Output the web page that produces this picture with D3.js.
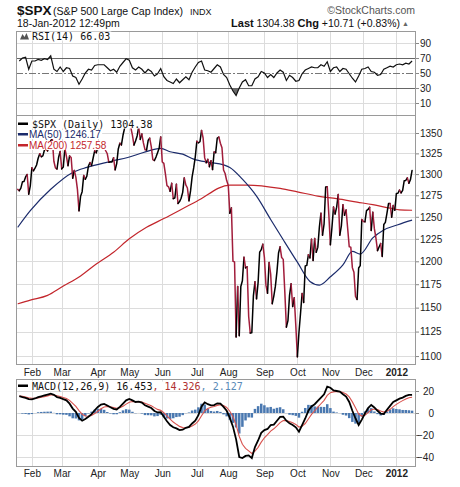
<!DOCTYPE html>
<html><head><meta charset="utf-8">
<script src="https://cdn.jsdelivr.net/npm/d3@7"></script>
<style>body{margin:0;background:#fff}svg{display:block}</style>
</head><body>
<svg id="c" width="460" height="487"></svg>
<script>
// ---- data (trading-day index 0 = 19-Jan-2011, 251 = 18-Jan-2012) ----
const closes = [
1281.9,1280.3,1283.4,1290.8,1291.2,1296.6,1299.5,1276.3,1286.1,
1307.6,1304.0,1307.1,1310.9,1319.1,1324.6,1320.9,1321.9,1329.1,1332.3,1328.0,1336.3,1340.4,1343.0,1315.4,1307.4,1306.1,1319.9,1327.2,
1306.3,1308.4,1331.0,1321.2,1310.1,1321.8,1320.0,1295.1,1304.3,1296.4,1281.9,1256.9,1273.7,1279.2,1298.4,1293.8,1297.5,1309.7,1313.8,1310.2,1319.4,1328.3,1325.8,
1332.4,1332.9,1332.6,1335.5,1333.5,1328.2,1324.5,1314.2,1314.4,1314.5,1319.7,1305.1,1312.6,1330.4,1337.4,1335.3,1347.2,1355.7,1360.5,1363.6,
1361.2,1356.6,1347.3,1335.1,1340.2,1346.3,1357.2,1342.1,1348.7,1337.8,1329.5,1329.0,1340.7,1343.6,1333.3,1317.4,1316.3,1320.5,1325.7,1331.1,1345.2,
1314.6,1312.9,1300.2,1286.2,1284.9,1279.6,1289.0,1271.0,1271.8,1287.9,1265.4,1267.6,1271.5,1278.4,1295.5,1287.1,1283.5,1268.5,1280.1,1296.7,1307.4,1320.6,
1339.7,1337.9,1339.2,1353.2,1343.8,1319.5,1313.6,1317.7,1308.9,1316.1,1305.4,1326.7,1325.8,1343.8,1345.0,1337.4,1331.9,1304.9,1300.7,1292.3,
1286.9,1254.1,1260.3,1200.1,1199.4,1119.5,1172.5,1120.8,1172.6,1178.8,1204.5,1192.8,1193.9,1140.7,1123.5,1123.8,1162.4,1177.6,1159.3,1176.8,1210.1,1212.9,1218.9,
1204.4,1174.0,1165.2,1198.6,1185.9,1154.2,1162.3,1172.9,1188.7,1209.1,1216.0,1204.1,1202.1,1166.8,1129.6,1136.4,1163.0,1175.4,1151.1,1160.4,1131.4,
1099.2,1124.0,1144.0,1165.0,1155.5,1194.9,1195.5,1207.3,1203.7,1224.6,1200.9,1225.4,1209.9,1215.4,1238.3,1254.2,1229.1,1242.0,1284.6,1285.1,1253.3,
1218.3,1237.9,1261.2,1253.2,1261.1,1275.9,1229.1,1239.7,1263.9,1251.8,1257.8,1236.9,1216.1,1215.7,1193.0,1188.0,1161.8,1158.7,1192.6,1195.2,1247.0,
1244.6,1244.3,1257.1,1258.5,1261.0,1234.4,1255.2,1236.5,1225.7,1211.8,1215.8,1219.7,1205.4,1241.3,1243.7,1254.0,1265.3,1265.4,1249.6,1263.0,1257.6,
1277.1,1277.3,1281.1,1277.8,1280.7,1292.1,1292.5,1295.5,1289.1,1293.7,1304.38];

const monthIdx = [9,28,51,71,92,114,134,157,178,199,220,241];
const monthLabels = ["Feb","Mar","Apr","May","Jun","Jul","Aug","Sep","Oct","Nov","Dec","2012"];
const priceTicks = [1100,1125,1150,1175,1200,1225,1250,1275,1300,1325,1350];
const rsiTicks = [10,30,50,70,90];
const macdTicks = [-40,-20,0,20];

const ma50Idx = [0,8,21,35,44,52,61,70,80,91,97,105,112,122,131,135,143,152,161,169,178,186,192,199,207,213,218,226,233,242,251];
const ma50 = [1238,1257,1282,1302,1308,1312,1316,1320,1326,1331,1327,1324,1318,1314,1311,1308,1294,1274,1247,1224,1199,1178,1174,1183,1196,1211,1208,1226,1235,1241,1246.17];
const ma200Idx = [0,8,19,28,40,50,61,71,82,93,114,135,146,167,178,191,203,216,226,237,243,251];
const ma200 = [1154,1158,1163,1172,1184,1197,1210,1225,1238,1248,1268,1287,1287,1283,1279,1274,1271,1267,1264,1260,1258,1257.58];

// indicator samples at odd trading-day indices 1,3,...,251
const rsi = [66,70,71,55,66,66,68,67,69,68,73,55,52,58,52,57,56,46,44,35,42,50,55,54,60,
61,61,61,57,53,55,51,59,64,69,67,57,54,58,55,50,55,52,46,49,56,45,40,38,36,42,37,41,45,41,
51,58,64,66,54,53,51,56,61,58,48,44,34,26,20,30,38,41,33,33,42,45,52,50,44,48,44,50,54,51,
40,47,44,39,40,49,54,56,58,57,57,61,59,65,52,57,58,52,56,55,49,43,38,46,55,56,58,52,51,47,
48,55,57,59,58,61,62,61,63,62,66.03];
const macd = [15.3,14.5,13.8,12.6,12.4,13.2,14.4,15.2,16.0,16.8,17.6,16.5,14.5,13.8,12.6,11.5,8.5,4.0,1.0,-4.5,
-7.0,-5.5,-3.4,-1.0,2.5,5.5,7.6,8.3,6.8,5.2,3.8,3.2,5.5,8.5,11.5,12.8,11.5,10.0,10.3,9.5,
7.0,5.8,4.5,1.8,0.5,0.8,-3.5,-7.5,-10.9,-13.0,-14.0,-15.5,-15.2,-13.5,-12.6,-9.5,-7.0,-2.0,6.0,9.7,
8.0,7.0,7.2,8.8,8.5,5.5,2.0,-4.5,-12.4,-24,-40,-41,-39,-38.5,-41,-31,-25,-18,-15.5,-14.5,
-11,-10.5,-7,-3.5,-3.4,-7,-9.4,-10.9,-13,-17,-11,-5,2,6,8,11,14,17,24,23,
20.5,20,19.4,17,15,10,2,-5,-10.9,-6,-0.5,4.5,7.3,5,2,-0.5,-0.9,3,6.5,10,
11.5,13,14,15.5,16.4,16.453];
const signal = [15.4,15.08,14.62,13.89,13.35,13.30,13.70,14.24,14.87,15.57,16.30,16.37,15.70,15.02,14.15,13.20,11.51,8.81,6.00,2.22,
-1.10,-2.68,-2.94,-2.24,-0.53,1.64,3.79,5.41,5.91,5.66,4.99,4.35,4.76,6.11,8.05,9.76,10.39,10.25,10.27,9.99,
8.91,7.79,6.61,4.88,3.30,2.40,0.28,-2.52,-5.54,-8.22,-10.30,-12.17,-13.26,-13.35,-13.08,-11.79,-10.07,-7.17,-2.43,1.94,
4.12,5.16,5.89,6.94,7.50,6.78,5.06,1.62,-3.43,-10.84,-21.34,-28.42,-32.23,-34.49,-36.83,-34.73,-31.23,-26.47,-22.52,-19.63,
-16.52,-14.35,-11.71,-8.75,-6.83,-6.89,-7.79,-8.91,-10.38,-12.76,-12.13,-9.56,-5.40,-1.30,2.05,5.27,8.41,11.50,16.00,18.52,
19.23,19.51,19.47,18.58,17.29,14.67,10.11,4.67,-0.93,-2.76,-1.95,0.37,2.87,3.64,3.05,1.77,0.81,1.60,3.36,5.75,
7.82,9.68,11.24,12.77,13.9,14.326];

// ---- layout ----
const svg = d3.select("#c");
const L = 16, R = 416;
const P = {rsi:{t:31,b:115}, main:{t:115,b:364}, macd:{t:379,b:466}};
const FONT = "'Liberation Sans', Arial, sans-serif";
const MONO = "'DejaVu Sans Mono', monospace";

const x = d3.scaleLinear().domain([-1.1, 253.5]).range([L, R]);
const yP = d3.scaleLog().domain([1092, 1372.5]).range([P.main.b, P.main.t]);
const yR = d3.scaleLinear().domain([0, 100]).range([110.5, 35.5]);
const yM = d3.scaleLinear().domain([-40, 20]).range([457, 391]);
const oddIdx = i => 1 + 2 * i;

const defs = svg.append("defs");
function clip(id, t, b) {
  defs.append("clipPath").attr("id", id).append("rect")
    .attr("x", L).attr("y", t).attr("width", R - L).attr("height", b - t);
  return "url(#" + id + ")";
}
const cpR = clip("cpR", P.rsi.t, P.rsi.b), cpP = clip("cpP", P.main.t, P.main.b), cpM = clip("cpM", P.macd.t, P.macd.b);

function grid(p, ys) {
  const g = svg.append("g");
  g.selectAll("line.v").data(monthIdx).join("line")
    .attr("x1", d => Math.round(x(d)) + 0.5).attr("x2", d => Math.round(x(d)) + 0.5)
    .attr("y1", p.t).attr("y2", p.b).attr("stroke", "#dcdcdc");
  g.selectAll("line.h").data(ys).join("line")
    .attr("x1", L).attr("x2", R)
    .attr("y1", d => Math.round(d) + 0.5).attr("y2", d => Math.round(d) + 0.5).attr("stroke", "#dcdcdc");
}
grid(P.rsi, [yR(10), yR(90)]);
grid(P.main, priceTicks.map(yP));
grid(P.macd, macdTicks.map(yM));

// ---- RSI panel ----
const gR = svg.append("g").attr("clip-path", cpR);
const rsiPts = rsi.map((v, i) => [oddIdx(i), v]);
defs.append("clipPath").attr("id", "below30").append("rect").attr("x", L).attr("width", R - L).attr("y", yR(30)).attr("height", 100);
defs.append("clipPath").attr("id", "above70").append("rect").attr("x", L).attr("width", R - L).attr("y", 0).attr("height", yR(70));
gR.append("path").datum(rsiPts).attr("clip-path", "url(#below30)")
  .attr("d", d3.area().x(d => x(d[0])).y0(yR(30)).y1(d => yR(d[1]))).attr("fill", "#6a6a6a");
gR.append("path").datum(rsiPts).attr("clip-path", "url(#above70)")
  .attr("d", d3.area().x(d => x(d[0])).y0(yR(70)).y1(d => yR(d[1]))).attr("fill", "#6a6a6a");
[30, 70].forEach(v => gR.append("line").attr("x1", L).attr("x2", R)
  .attr("y1", Math.round(yR(v)) + 0.5).attr("y2", Math.round(yR(v)) + 0.5).attr("stroke", "#666"));
gR.append("line").attr("x1", L).attr("x2", R).attr("y1", Math.round(yR(50)) + 0.5).attr("y2", Math.round(yR(50)) + 0.5)
  .attr("stroke", "#777").attr("stroke-dasharray", "7,2,2,2");
gR.append("path").datum(rsiPts).attr("fill", "none").attr("stroke", "#111").attr("stroke-width", 1.2)
  .attr("d", d3.line().x(d => x(d[0])).y(d => yR(d[1])));

// ---- main price panel ----
const gP = svg.append("g").attr("clip-path", cpP);
const lineMA = (idx, vals) => d3.line().curve(d3.curveMonotoneX).x(d => x(d[0])).y(d => yP(d[1]))(idx.map((k, i) => [k, vals[i]]));
gP.append("path").attr("d", lineMA(ma200Idx, ma200)).attr("fill", "none").attr("stroke", "#c3262c").attr("stroke-width", 1.2);
gP.append("path").attr("d", lineMA(ma50Idx, ma50)).attr("fill", "none").attr("stroke", "#1b2b6b").attr("stroke-width", 1.2);
// price: segments coloured by up (black) / down (red) day
const runs = [];
for (let i = 1; i < closes.length; i++) {
  const up = closes[i] >= closes[i - 1];
  const last = runs[runs.length - 1];
  if (last && last.up === up) last.pts.push(i);
  else runs.push({up, pts: [i - 1, i]});
}
gP.selectAll("path.px").data(runs).join("path")
  .attr("d", r => d3.line().x(i => x(i)).y(i => yP(closes[i]))(r.pts))
  .attr("fill", "none").attr("stroke", r => r.up ? "#000" : "#a11d3b")
  .attr("stroke-width", 1.5).attr("stroke-linejoin", "round").attr("stroke-linecap", "round");

// ---- MACD panel ----
const gM = svg.append("g").attr("clip-path", cpM);
gM.selectAll("rect.h").data(macd.map((m, i) => [oddIdx(i), m - signal[i]])).join("rect")
  .attr("x", d => x(d[0]) - 1.25).attr("width", 2.5)
  .attr("y", d => yM(Math.max(0, d[1]))).attr("height", d => Math.abs(yM(d[1]) - yM(0)))
  .attr("fill", "#4a78b0");
gM.append("path").datum(signal.map((v, i) => [oddIdx(i), v])).attr("fill", "none").attr("stroke", "#d9534f").attr("stroke-width", 1.1)
  .attr("d", d3.line().x(d => x(d[0])).y(d => yM(d[1])));
gM.append("path").datum(macd.map((v, i) => [oddIdx(i), v])).attr("fill", "none").attr("stroke", "#000").attr("stroke-width", 1.8)
  .attr("d", d3.line().x(d => x(d[0])).y(d => yM(d[1])));

// ---- frames ----
[P.rsi, P.main, P.macd].forEach(p => svg.append("rect").attr("x", L + 0.5).attr("y", p.t + 0.5)
  .attr("width", R - L - 1).attr("height", p.b - p.t).attr("fill", "none").attr("stroke", "#9a9a9a"));

// ---- axes ----
function styleAxis(g) {
  g.select(".domain").remove();
  g.selectAll("text").attr("font-family", FONT).attr("font-size", 10).attr("fill", "#222");
  g.selectAll("line").attr("stroke", "#888");
}
svg.append("g").attr("transform", `translate(${R},0)`)
  .call(d3.axisRight(yP).tickValues(priceTicks).tickFormat(d3.format("d")).tickSize(3).tickPadding(1)).call(styleAxis);
svg.append("g").attr("transform", `translate(${R},0)`)
  .call(d3.axisRight(yR).tickValues(rsiTicks).tickSize(3).tickPadding(1)).call(styleAxis);
svg.append("g").attr("transform", `translate(${R},0)`)
  .call(d3.axisRight(yM).tickValues(macdTicks).tickSize(3).tickPadding(1)).call(styleAxis)
  .selectAll("text").attr("text-anchor", "end").attr("x", 18);
function xAxis(y, pad) {
  const g = svg.append("g").attr("transform", `translate(0,${y})`)
    .call(d3.axisBottom(x).tickValues(monthIdx).tickFormat((d, i) => monthLabels[i]).tickSize(0).tickPadding(pad)).call(styleAxis);
  g.selectAll("text").filter(d => d === 241).attr("font-weight", "bold");
}
xAxis(P.main.b, 5);
xAxis(P.macd.b, 4);

// ---- header ----
const hdr = svg.append("g").attr("font-family", FONT).attr("fill", "#111");
hdr.append("text").attr("x", 17).attr("y", 15).attr("font-size", 13.5).attr("font-weight", "bold").text("$SPX");
hdr.append("text").attr("x", 53).attr("y", 15).attr("font-size", 10.6).text("(S&P 500 Large Cap Index)");
hdr.append("text").attr("x", 190).attr("y", 15).attr("font-size", 9).text("INDX");
hdr.append("text").attr("x", 415).attr("y", 14).attr("text-anchor", "end").attr("font-size", 10.5).attr("fill", "#555").text("\u00A9StockCharts.com");
hdr.append("text").attr("x", 17).attr("y", 27).attr("font-size", 10.5).text("18-Jan-2012 12:49pm");
const last = hdr.append("text").attr("x", 400).attr("y", 27).attr("text-anchor", "end").attr("font-size", 10.5);
last.append("tspan").attr("font-weight", "bold").attr("font-size", 11).text("Last");
last.append("tspan").text(" 1304.38 ");
last.append("tspan").attr("font-weight", "bold").attr("font-size", 11).text("Chg");
last.append("tspan").text(" +10.71 (+0.83%)");
hdr.append("text").attr("x", 402).attr("y", 26).attr("font-size", 7).attr("fill", "#666").text("\u25B2");

// ---- legends ----
function legendRow(g, yBase, swatch, parts, tx, font, size) {
  const t = g.append("text").attr("x", tx).attr("y", yBase).attr("font-family", font).attr("font-size", size);
  parts.forEach(p => t.append("tspan").attr("fill", p[1]).text(p[0]));
  const bb = t.node().getBBox();
  g.insert("rect", "text").attr("x", bb.x - 1).attr("y", bb.y + 1).attr("width", bb.width + 2).attr("height", bb.height - 2).attr("fill", "#fff");
  if (swatch) g.append("rect").attr("x", 18).attr("y", yBase - 5).attr("width", 10).attr("height", 2.5).attr("fill", swatch);
}
const lg = svg.append("g");
legendRow(lg, 127.5, "#000", [["$SPX (Daily) 1304.38", "#111"]], 32, MONO, 10);
legendRow(lg, 138, "#1b2b6b", [["MA(50) 1246.17", "#1b2b6b"]], 29, FONT, 10);
legendRow(lg, 149, "#c3262c", [["MA(200) 1257.58", "#c3262c"]], 29, FONT, 10);
const lgR = svg.append("g");
legendRow(lgR, 39.5, null, [["RSI(14) 66.03", "#111"]], 32, MONO, 10);
lgR.append("path").attr("d", "M20,39.5 L22.5,34 L24.5,37 L26.5,33 L29,39.5 Z").attr("fill", "#555");
const lgM = svg.append("g");
legendRow(lgM, 389.5, "#000", [["MACD(12,26,9) 16.453", "#111"], [", 14.326", "#b03030"], [", 2.127", "#5a8bb8"]], 32, MONO, 10);
</script>
</body></html>
